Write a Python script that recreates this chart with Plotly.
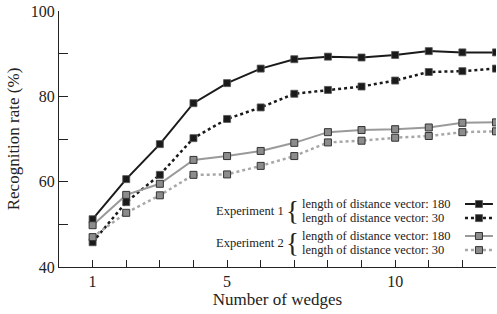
import plotly.graph_objects as go

wedges = list(range(1, 14))
exp1_180 = [51.2, 60.6, 68.8, 78.4, 83.1, 86.5, 88.7, 89.3, 89.1, 89.7, 90.6, 90.3, 90.3]
exp1_30 = [45.8, 55.2, 61.6, 70.2, 74.7, 77.4, 80.6, 81.5, 82.3, 83.7, 85.7, 85.9, 86.5]
exp2_180 = [49.8, 56.9, 59.5, 65.1, 66.0, 67.2, 69.1, 71.6, 72.1, 72.3, 72.7, 73.8, 73.9]
exp2_30 = [47.0, 52.7, 56.8, 61.6, 61.7, 63.7, 66.0, 69.2, 69.6, 70.3, 70.7, 71.6, 71.8]

x_tickvals = list(range(1, 14))
x_ticktext = ["1", "", "", "", "5", "", "", "", "", "10", "", "", ""]
y_tickvals = [40, 50, 60, 70, 80, 90, 100]
y_ticktext = ["40", "", "60", "", "80", "", "100"]

group_labels = ["Experiment 1", "Experiment 2"]
series_labels = ["length of distance vector: 180", "length of distance vector: 30",
                 "length of distance vector: 180", "length of distance vector: 30"]

FONT = "Liberation Serif"

styles = [
    dict(line=dict(color="#1a1a1a", width=2), marker=dict(symbol="square", size=7, color="#1a1a1a", line=dict(color="#555", width=0.8))),
    dict(line=dict(color="#1a1a1a", width=2.5, dash="3px,3px"), marker=dict(symbol="square", size=7, color="#1a1a1a", line=dict(color="#555", width=0.8))),
    dict(line=dict(color="#9a9a9a", width=2), marker=dict(symbol="square", size=7, color="#8c8c8c", line=dict(color="#333", width=1))),
    dict(line=dict(color="#a8a8a8", width=2.5, dash="3px,3px"), marker=dict(symbol="square", size=7, color="#8c8c8c", line=dict(color="#333", width=1))),
]
series = [exp1_180, exp1_30, exp2_180, exp2_30]

fig = go.Figure()
for vals, st in zip(series, styles):
    fig.add_trace(go.Scatter(x=wedges, y=vals, mode="lines+markers", showlegend=False,
                             line=st["line"], marker=st["marker"], hoverinfo="skip"))

# legend samples (on an overlay axis spanning the plot area)
row_y = [0.246, 0.191, 0.121, 0.066]
for ry, st in zip(row_y, styles):
    fig.add_trace(go.Scatter(x=[0.929, 0.993], y=[ry, ry], mode="lines", line=st["line"],
                             xaxis="x2", yaxis="y2", showlegend=False, hoverinfo="skip"))
    fig.add_trace(go.Scatter(x=[0.961], y=[ry], mode="markers", marker=st["marker"],
                             xaxis="x2", yaxis="y2", showlegend=False, hoverinfo="skip"))

annotations = []
for ry, lab in zip(row_y, series_labels):
    annotations.append(dict(x=0.551, y=ry, xref="paper", yref="paper", text=lab, showarrow=False,
                            xanchor="left", yanchor="middle", font=dict(family=FONT, size=12.5, color="#222")))
for i, g in enumerate(group_labels):
    cy = (row_y[2 * i] + row_y[2 * i + 1]) / 2
    annotations.append(dict(x=0.519, y=cy, xref="paper", yref="paper", text=g, showarrow=False,
                            xanchor="right", yanchor="middle", font=dict(family=FONT, size=12.5, color="#222")))
    annotations.append(dict(x=0.534, y=cy, xref="paper", yref="paper", text="{", showarrow=False,
                            xanchor="center", yanchor="middle", font=dict(family=FONT, size=27, color="#222")))

fig.update_layout(
    width=497, height=314,
    margin=dict(l=59, r=1, t=11, b=47),
    paper_bgcolor="white", plot_bgcolor="white",
    font=dict(family=FONT, color="#222"),
    annotations=annotations,
    xaxis=dict(range=[0, 13], tickvals=x_tickvals, ticktext=x_ticktext, ticks="inside", ticklen=7,
               tickcolor="#222", showline=True, linecolor="#222", linewidth=1.2, showgrid=False,
               zeroline=False, tickfont=dict(family=FONT, size=16, color="#222"), automargin=False,
               ticklabeloverflow="allow",
               title=dict(text="Number of wedges", font=dict(family=FONT, size=17, color="#222"), standoff=2)),
    yaxis=dict(range=[40, 100], tickvals=y_tickvals, ticktext=y_ticktext, ticks="inside", ticklen=9,
               tickcolor="#222", showline=True, linecolor="#222", linewidth=1.2, showgrid=False,
               zeroline=False, tickfont=dict(family=FONT, size=16, color="#222"), automargin=False,
               ticklabeloverflow="allow",
               title=dict(text="Recognition rate (%)", font=dict(family=FONT, size=17, color="#222"), standoff=6)),
    xaxis2=dict(range=[0, 1], overlaying="x", visible=False, domain=[0, 1]),
    yaxis2=dict(range=[0, 1], overlaying="y", visible=False, domain=[0, 1]),
)

fig.write_html("out.html", config={"displayModeBar": False},
               post_script="document.body.style.margin='0';")
